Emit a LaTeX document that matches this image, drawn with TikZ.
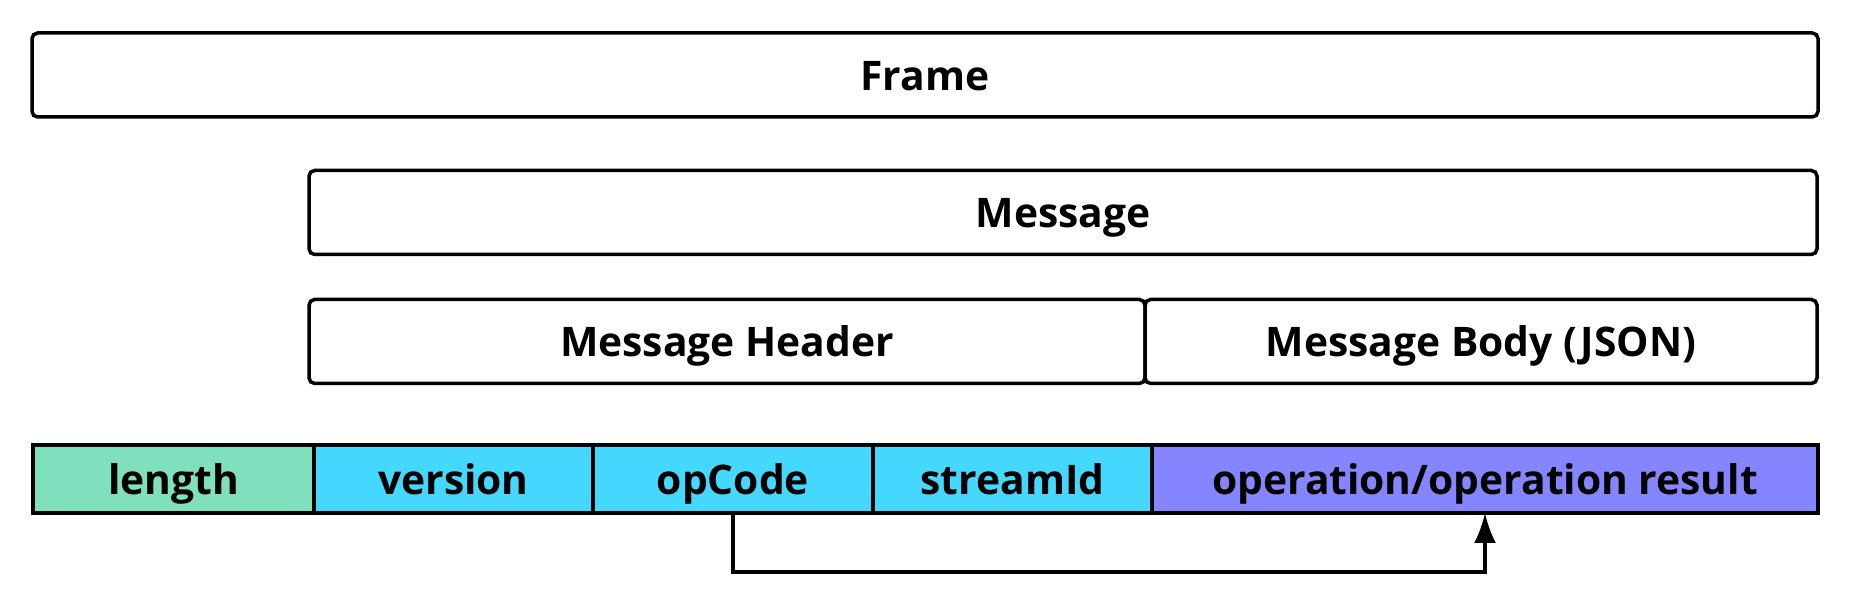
\documentclass[tikz,border=0pt]{standalone}
\usepackage{fontspec}
\setmainfont{Open Sans}
\usetikzlibrary{arrows.meta, positioning}

\definecolor{lengthgreen}{HTML}{7EE0BC}
\definecolor{headcyan}{HTML}{44D8FF}
\definecolor{bodyblue}{HTML}{8585FF}

\begin{document}
\begin{tikzpicture}[x=0.1mm, y=-0.1mm, >={Latex[length=3mm, width=2.2mm]},
    box/.style={draw, line width=1pt, rounded corners=1.6pt, minimum height=8.4mm,
        inner sep=0pt, outer sep=0pt, text height=2ex, text depth=0.4ex,
        font=\bfseries\fontsize{11.6}{13}\selectfont},
    cell/.style={draw, line width=0.9pt, minimum height=6.8mm,
        inner sep=0pt, outer sep=0pt, text height=2ex, text depth=0.4ex,
        font=\bfseries\fontsize{11.6}{13}\selectfont}]
    % 1. Vùng hiển thị
    \useasboundingbox (0,0) rectangle (1866,604);

    % 2. Các khung lồng nhau
    \node[box, minimum width=178.6mm] (frame) at (925,75) {Frame};
    \node[box, minimum width=150.8mm] (msg) at (1063,212.5) {Message};
    \node[box, minimum width=83.6mm] (hdr) at (727,341.5) {Message Header};
    \node[box, minimum width=67.2mm, right=0pt of hdr] (body) {Message Body (JSON)};

    % 3. Các trường của gói tin
    \node[cell, fill=lengthgreen, minimum width=28.1mm] (len) at (173.5,479) {length};
    \node[cell, fill=headcyan, minimum width=27.9mm, right=0pt of len] (ver) {version};
    \node[cell, fill=headcyan, minimum width=28mm, right=0pt of ver] (opc) {opCode};
    \node[cell, fill=headcyan, minimum width=27.9mm, right=0pt of opc] (sid) {streamId};
    \node[cell, fill=bodyblue, minimum width=66.6mm, right=0pt of sid] (opr) {operation/operation result};

    % 4. Mũi tên opCode -> operation
    \draw[->, line width=0.9pt] (opc.south) -- ++(0,59) -| (opr.south);
\end{tikzpicture}
\end{document}
